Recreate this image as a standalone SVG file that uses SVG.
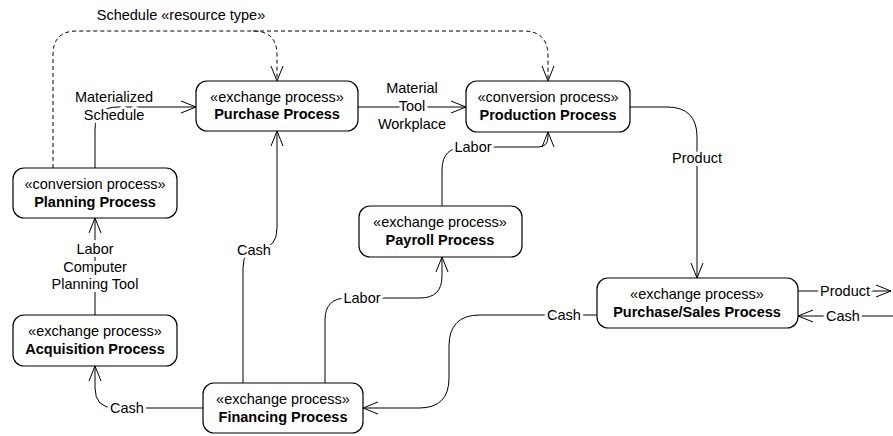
<svg xmlns="http://www.w3.org/2000/svg" width="893" height="436" viewBox="0 0 893 436">
<defs>
<marker id="open" viewBox="0 0 16 14" refX="15" refY="7" markerWidth="16" markerHeight="14" markerUnits="userSpaceOnUse" orient="auto" overflow="visible">
<path d="M0,1 L15,7 L0,13" fill="none" stroke="#000" stroke-width="1"/>
</marker>
<style>
.box{fill:#fff;stroke:#000;stroke-width:1.2}
text{font-family:"Liberation Sans",Arial,sans-serif;font-size:14.5px;fill:#000;text-anchor:middle}
.b{font-weight:bold}
.c{fill:none;stroke:#000;stroke-width:1}
.d{fill:none;stroke:#000;stroke-width:1;stroke-dasharray:4,3}
.lbl{paint-order:stroke;stroke:#fff;stroke-width:6px;stroke-linejoin:round}
</style>
</defs>
<rect width="893" height="436" fill="#fff"/>
<g id="connectors">
<path class="d" d="M53,168 V55 Q53,31 77,31 H253 Q277,31 277,55 V81" marker-end="url(#open)"/>
<path class="d" d="M253,31 H523 Q548,31 548,56 V81" marker-end="url(#open)"/>
<text class="lbl" x="181" y="20">Schedule «resource type»</text>
<path class="c" d="M95,168 V130 Q95,107 118,107 H196" marker-end="url(#open)"/>
<text class="lbl" x="114" y="102">Materialized</text>
<text class="lbl" x="114" y="120">Schedule</text>
<path class="c" d="M358,107 H466" marker-end="url(#open)"/>
<text class="lbl" x="412" y="93">Material</text>
<text class="lbl" x="412" y="111">Tool</text>
<text class="lbl" x="412" y="129">Workplace</text>
<path class="c" d="M442,206 V170 Q442,147 465,147 H538 Q548,147 548,137 V132" marker-end="url(#open)"/>
<text class="lbl" x="473" y="152">Labor</text>
<path class="c" d="M630,107 H667 Q697,107 697,137 V278" marker-end="url(#open)"/>
<text class="lbl" x="697" y="163">Product</text>
<path class="c" d="M243,383 V268 Q243,248 260,248 Q277,248 277,228 V131" marker-end="url(#open)"/>
<text class="lbl" x="254" y="255">Cash</text>
<path class="c" d="M95,315 V218" marker-end="url(#open)"/>
<text class="lbl" x="95" y="254">Labor</text>
<text class="lbl" x="95" y="272">Computer</text>
<text class="lbl" x="95" y="289">Planning Tool</text>
<path class="c" d="M203,408 H115 Q95,408 95,388 V366" marker-end="url(#open)"/>
<text class="lbl" x="127" y="413">Cash</text>
<path class="c" d="M325,383 V320 Q325,298 347,298 H420 Q442,298 442,276 V257" marker-end="url(#open)"/>
<text class="lbl" x="362" y="303">Labor</text>
<path class="c" d="M597,315 H480 Q449,315 449,346 V378 Q449,408 419,408 H363" marker-end="url(#open)"/>
<text class="lbl" x="564" y="320">Cash</text>
<path class="c" d="M798,291 H891" marker-end="url(#open)"/>
<text class="lbl" x="845" y="296">Product</text>
<path class="c" d="M893,316 H798" marker-end="url(#open)"/>
<text class="lbl" x="843" y="321">Cash</text>
</g>
<g id="purchase">
<rect class="box" x="196" y="81" width="162" height="50" rx="11"/>
<text x="277" y="102">«exchange process»</text>
<text class="b" x="277" y="119">Purchase Process</text>
</g>
<g id="production">
<rect class="box" x="466" y="81" width="164" height="51" rx="11"/>
<text x="548" y="102">«conversion process»</text>
<text class="b" x="548" y="120">Production Process</text>
</g>
<g id="planning">
<rect class="box" x="13" y="168" width="164" height="50" rx="11"/>
<text x="95" y="189">«conversion process»</text>
<text class="b" x="95" y="207">Planning Process</text>
</g>
<g id="acquisition">
<rect class="box" x="13" y="315" width="164" height="51" rx="11"/>
<text x="95" y="336">«exchange process»</text>
<text class="b" x="95" y="354">Acquisition Process</text>
</g>
<g id="financing">
<rect class="box" x="203" y="383" width="160" height="50" rx="11"/>
<text x="283" y="404">«exchange process»</text>
<text class="b" x="283" y="422">Financing Process</text>
</g>
<g id="payroll">
<rect class="box" x="359" y="206" width="163" height="51" rx="11"/>
<text x="440" y="227">«exchange process»</text>
<text class="b" x="440" y="245">Payroll Process</text>
</g>
<g id="purchase-sales">
<rect class="box" x="597" y="278" width="201" height="50" rx="11"/>
<text x="697" y="299">«exchange process»</text>
<text class="b" x="697" y="317">Purchase/Sales Process</text>
</g>
</svg>
